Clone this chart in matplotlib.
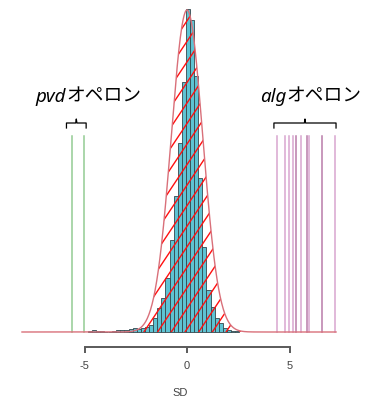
import matplotlib
matplotlib.use("Agg")
import matplotlib.pyplot as plt
import numpy as np
from matplotlib.patches import Polygon

# histogram of SD values (bin width 0.2, first left edge -4.85)
bin_start = -4.85
bin_width = 0.2
counts = [1, 2, 1, 1, 0, 0, 1, 2, 2, 2, 3, 4, 3, 4,
          5, 7, 14, 24, 34, 54, 92, 136, 189, 250, 323, 312, 256, 154,
          85, 42, 25, 14, 9, 4, 2, 1, 1]

# fitted normal curve
fit_mean = 0.0
fit_sd = 0.77
fit_peak = 322

# operon genes, SD positions
pvd_sd = [-5.6, -5.02]
alg_sd = [4.39, 4.78, 4.98, 5.17, 5.32, 5.56, 5.85, 5.95, 6.59, 7.22]
alg_dark = [False, False, False, False, True, False, True, False, True, False]
line_top = 196

xticks = [-5, 0, 5]

fig = plt.figure(figsize=(3.65, 4.01), dpi=100)
ax = fig.add_axes([20 / 365, (401 - 334) / 401, 320 / 365, 326 / 401])
ax.set_xlim((20 - 187) / 20.5, (340 - 187) / 20.5)
ax.set_ylim(-2, 324)

# vertical gene lines
for x in pvd_sd:
    ax.plot([x, x], [0, line_top], color='#93cc93', lw=1.1, zorder=1)
for x, dark in zip(alg_sd, alg_dark):
    ax.plot([x, x], [0, line_top], color='#b97ca9' if dark else '#d8a6cf',
            lw=1.1, zorder=1)

# bars
edges = bin_start + bin_width * np.arange(len(counts))
ax.bar(edges, counts, width=bin_width, align='edge', color='#5ec3d3',
       edgecolor='#35474d', linewidth=0.6, zorder=2)

# normal curve with red hatching
xs = np.linspace(-8.05, 7.27, 600)
ys = fit_peak * np.exp(-0.5 * ((xs - fit_mean) / fit_sd) ** 2)
poly = Polygon(np.column_stack([xs, ys]), closed=True, facecolor='none',
               edgecolor='none')
ax.add_patch(poly)
slope = 30.75
step = 0.668
for c in np.arange(-0.1 - 20 * step, 4, step):
    hx = np.array([c, c + 330 / slope])
    ln, = ax.plot(hx, slope * (hx - c), color='#ff1010', lw=1.0, zorder=3)
    ln.set_clip_path(poly)
ax.plot(xs, ys, color='#d9707a', lw=1.0, zorder=4, clip_on=False)

# braces and labels
def brace(x0, x1, y):
    mid = (x0 + x1) / 2
    ax.plot([x0, x0, mid - 0.03, mid, mid + 0.03, x1, x1],
            [y, y + 5, y + 5, y + 9, y + 5, y + 5, y],
            color='black', lw=0.9, clip_on=False)

brace(min(pvd_sd) - 0.28, max(pvd_sd) + 0.1, 204)
brace(min(alg_sd) - 0.15, max(alg_sd) + 0.05, 204)

jp = 'Noto Sans CJK JP'
for x, latin in [((66 - 187) / 20.5, 'pvd'), ((286 - 187) / 20.5, 'alg')]:
    ax.text(x, 230, latin, ha='right', va='baseline', fontsize=13.5,
            style='italic', family=['Noto Sans', 'DejaVu Sans'], clip_on=False)
    ax.text(x, 230, 'オペロン', ha='left', va='baseline', fontsize=13.5,
            family=[jp, 'DejaVu Sans'], clip_on=False)

# axis
for s in ['left', 'right', 'top']:
    ax.spines[s].set_visible(False)
ax.spines['bottom'].set_position(('outward', 9.4))
ax.spines['bottom'].set_bounds(-5, 5)
ax.spines['bottom'].set_color('#5a5a5a')
ax.spines['bottom'].set_linewidth(1.4)
ax.set_yticks([])
ax.set_xticks(xticks)
ax.set_xticklabels([str(t) for t in xticks], family='Liberation Sans',
                   fontsize=8, color='#444444')
ax.tick_params(axis='x', length=4, width=1.4, color='#5a5a5a', pad=6)
ax.set_xlabel('SD', family='Liberation Sans', fontsize=8, color='#444444',
              labelpad=12)

fig.savefig('out.png', dpi=100)
